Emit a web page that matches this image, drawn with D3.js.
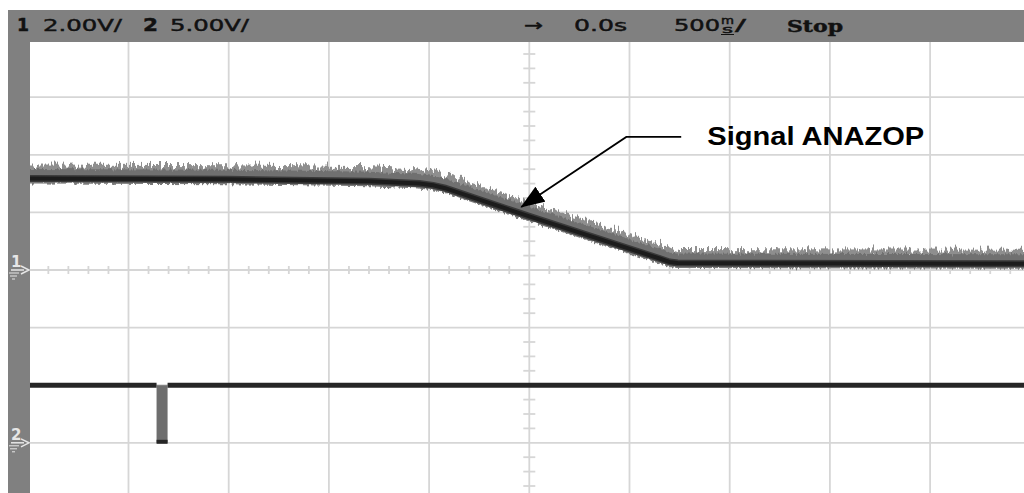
<!DOCTYPE html>
<html><head><meta charset="utf-8">
<script src="https://cdn.jsdelivr.net/npm/d3@7"></script>
<style>html,body{margin:0;padding:0;background:#fff;overflow:hidden}</style>
</head><body>
<script>
// ---- data ----
// time axis: 500 ms/div, 10 divisions, centre = 0.0 s
const timeTicks = [-2.5,-2.0,-1.5,-1.0,-0.5,0.0,0.5,1.0,1.5,2.0,2.5];
// channel 1 (2.00 V/div), ground at screen centre
const ch1Divs = [-4,-3,-2,-1,0,1,2,3,4];
const ch1Time = [-2.5,-1.5,-0.8,-0.55,-0.48,-0.42,0.0,0.65,0.70,0.74,2.5];
const ch1Volt = [3.18,3.15,3.08,3.00,2.94,2.84,1.86,0.40,0.28,0.24,0.22];
// channel 2 (5.00 V/div), ground 3 divisions below centre
const ch2Time = [-2.5,-1.86,-1.86,-1.805,-1.805,2.5];
const ch2Volt = [5,5,0,0,5,5];
// header labels
const header = {ch1:"1", ch1Scale:"2.00V/", ch2:"2", ch2Scale:"5.00V/", delay:"0.0s", tb:"500", state:"Stop"};
const annotation = {label:"Signal ANAZOP", tip:[-0.04,2.19], elbow:[0.484,4.62], end:[0.758,4.62], text:[0.888,4.34]};

const W=1024,H=493;
const svg=d3.select("body").append("svg").attr("width",W).attr("height",H);
const x=d3.scaleLinear().domain([-2.5,2.5]).range([28.3,1030.3]);
const y1=d3.scaleLinear().domain([-8,8]).range([500.4,39.6]);
const y2=d3.scaleLinear().domain([-5,35]).range([500.4,39.6]);

const defs=svg.append("defs");
function noiseFilter(id,freq,scale,seed){
  const f=defs.append("filter").attr("id",id).attr("x","-5%").attr("y","-300%").attr("width","110%").attr("height","700%");
  f.append("feTurbulence").attr("type","fractalNoise").attr("baseFrequency",freq).attr("numOctaves",2).attr("seed",seed).attr("result","t");
  f.append("feDisplacementMap").attr("in","SourceGraphic").attr("in2","t").attr("scale",scale).attr("xChannelSelector","G").attr("yChannelSelector","R");
}
noiseFilter("noise","0.4 0.02",18,4);
noiseFilter("noise2","0.5 0.03",6,9);
defs.append("clipPath").attr("id","scr").append("rect").attr("x",30).attr("y",42).attr("width",W-30).attr("height",H-42);
defs.append("marker").attr("id","arr").attr("viewBox","0 0 24 18").attr("refX",23).attr("refY",9)
  .attr("markerWidth",24).attr("markerHeight",18).attr("markerUnits","userSpaceOnUse").attr("orient","auto")
  .append("path").attr("d","M0,0L24,9L0,18Z").attr("fill","#000");

// ---- grid ----
const grid=svg.append("g").attr("stroke","#d6d6d6").attr("stroke-width",1.8);
grid.selectAll(".v").data(timeTicks).join("line").attr("x1",d=>x(d)).attr("x2",d=>x(d)).attr("y1",39.6).attr("y2",H);
grid.selectAll(".h").data(ch1Divs).join("line").attr("x1",28).attr("x2",W).attr("y1",d=>y1(d*2)).attr("y2",d=>y1(d*2));
const vt=d3.range(-4,4.01,0.25).filter(d=>Math.abs(d%1)>1e-6);
grid.selectAll(".vt").data(vt).join("line").attr("x1",x(0)-6).attr("x2",x(0)+6).attr("y1",d=>y1(d*2)).attr("y2",d=>y1(d*2));
const ht=d3.range(-2.5,2.51,0.1).filter(d=>Math.abs(Math.round(d*2)-d*2)>1e-6);
grid.selectAll(".ht").data(ht).join("line").attr("x1",d=>x(d)).attr("x2",d=>x(d)).attr("y1",y1(0)-4).attr("y2",y1(0)+4);

// ---- traces ----
const tr=svg.append("g").attr("clip-path","url(#scr)");
const ch1=ch1Time.map((t,i)=>[t,ch1Volt[i]]);
const l1=d3.line().x(d=>x(d[0])).y(d=>y1(d[1]));
tr.append("path").attr("d",l1(ch1)).attr("fill","none").attr("stroke","#8e8e8e").attr("stroke-width",10)
  .attr("transform","translate(0,-9)").attr("filter","url(#noise)");
tr.append("path").attr("d",l1(ch1)).attr("fill","none").attr("stroke","#707070").attr("stroke-width",9)
  .attr("transform","translate(0,-5)").attr("filter","url(#noise2)");
tr.append("path").attr("d",l1(ch1)).attr("fill","none").attr("stroke","#7a7a7a").attr("stroke-width",4)
  .attr("transform","translate(0,3)").attr("filter","url(#noise2)");
tr.append("path").attr("d",l1(ch1)).attr("fill","none").attr("stroke","#3a3a3a").attr("stroke-width",7);
tr.append("path").attr("d",l1(ch1)).attr("fill","none").attr("stroke","#1c1c1c").attr("stroke-width",4);

// channel 2
const ch2=ch2Time.map((t,i)=>[t,ch2Volt[i]]);
const pulse=ch2.filter(d=>d[1]<5);
tr.append("rect").attr("x",x(d3.min(pulse,d=>d[0]))).attr("width",x(d3.max(pulse,d=>d[0]))-x(d3.min(pulse,d=>d[0])))
  .attr("y",y2(5)).attr("height",y2(0)-y2(5)).attr("fill","#6e6e6e");
const segs=[];
for(let i=0;i<ch2.length-1;i++) if(ch2[i][1]===ch2[i+1][1]) segs.push([ch2[i],ch2[i+1]]);
const l2=d3.line().x(d=>x(d[0])).y(d=>y2(d[1]));
tr.selectAll(".s2n").data(segs.filter(s=>s[0][1]===5)).join("path").attr("d",l2).attr("fill","none")
  .attr("stroke","#8a8a8a").attr("stroke-width",3).attr("transform","translate(0,-3)").attr("filter","url(#noise2)");
tr.selectAll(".s2").data(segs).join("path").attr("d",l2).attr("fill","none").attr("stroke","#262626").attr("stroke-width",d=>d[0][1]===5?5:4)
  .attr("transform",d=>d[0][1]===5?null:"translate(0,-1)");

// ---- frame ----
svg.append("rect").attr("x",8).attr("y",10).attr("width",W-8).attr("height",32).attr("fill","#808080");
svg.append("rect").attr("x",8).attr("y",10).attr("width",22).attr("height",H-10).attr("fill","#808080");

// header text
const hd=svg.append("g").attr("font-family","DejaVu Sans").attr("font-size",16).attr("fill","#111")
  .attr("stroke","#111").attr("stroke-width",0.45);
function ht2(txt,xx,w,opt={}){
  const t=hd.append("text").attr("x",xx).attr("y",opt.y||31).attr("textLength",w).attr("lengthAdjust","spacingAndGlyphs").text(txt);
  if(opt.bold) t.attr("font-weight","bold");
  if(opt.size) t.attr("font-size",opt.size);
  if(opt.family) t.attr("font-family",opt.family);
  return t;
}
ht2(header.ch1,17,12,{bold:true,size:17});
ht2(header.ch1Scale,43,79);
ht2(header.ch2,143,15,{bold:true,size:17});
ht2(header.ch2Scale,170,79);
ht2("→",524,19);
ht2(header.delay,574,53);
ht2(header.tb,674,46);
ht2("m",721,13,{y:24,size:10});
ht2("s",722,11,{y:33,size:10});
hd.append("line").attr("x1",721).attr("x2",734).attr("y1",34.5).attr("y2",34.5).attr("stroke","#111").attr("stroke-width",1);
ht2("/",735,11);
ht2(header.state,787,56,{y:32,bold:true,size:17,family:"DejaVu Serif"});

// channel ground markers
function marker(label,yy){
  const g=svg.append("g").attr("fill","#e6e6e6").attr("stroke","#e6e6e6");
  g.append("text").attr("x",11).attr("y",yy-3).attr("font-family","DejaVu Sans").attr("font-size",15).attr("font-weight","bold").attr("stroke","none").text(label);
  g.append("line").attr("x1",11).attr("x2",24).attr("y1",yy).attr("y2",yy).attr("stroke-width",1.5);
  g.append("path").attr("d",`M21,${yy-4}L29,${yy}L21,${yy+4}`).attr("fill","none").attr("stroke-width",1.5);
  [[9,19,3],[10,17,6],[12,15,9]].forEach(([a,b,o])=>g.append("line").attr("x1",a).attr("x2",b).attr("y1",yy+o).attr("y2",yy+o).attr("stroke-width",1));
}
marker(header.ch1,y1(0));
marker(header.ch2,y2(0));

// annotation
const an=svg.append("g");
an.append("path").attr("d",`M${x(annotation.end[0])},${y1(annotation.end[1])}L${x(annotation.elbow[0])},${y1(annotation.elbow[1])}L${x(annotation.tip[0])},${y1(annotation.tip[1])}`)
  .attr("fill","none").attr("stroke","#000").attr("stroke-width",1.8).attr("marker-end","url(#arr)");
an.append("text").attr("x",x(annotation.text[0])).attr("y",y1(annotation.text[1])).attr("font-family","Liberation Sans, Arial").attr("font-weight","bold")
  .attr("font-size",26).attr("textLength",217).attr("lengthAdjust","spacingAndGlyphs").attr("fill","#000").text(annotation.label);
</script>
</body></html>
